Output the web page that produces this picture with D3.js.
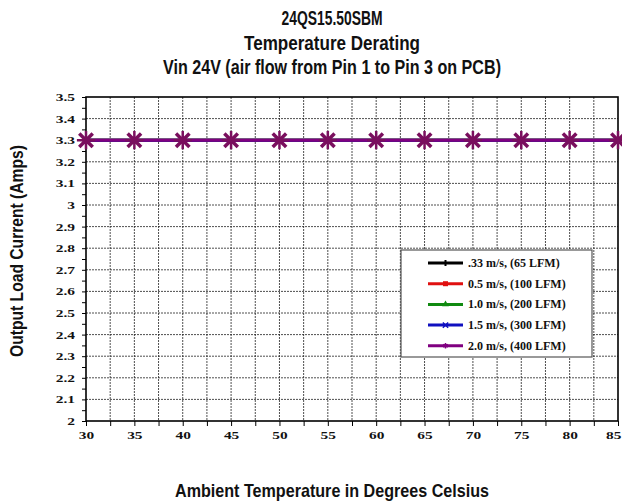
<!DOCTYPE html>
<html><head><meta charset="utf-8">
<script src="https://cdn.jsdelivr.net/npm/d3@7"></script>
<style>body{margin:0;background:#fff}svg{display:block}</style>
</head><body>
<script>
const temps = [30,35,40,45,50,55,60,65,70,75,80,85];
const s033 = [3.3,3.3,3.3,3.3,3.3,3.3,3.3,3.3,3.3,3.3,3.3,3.3];
const s05  = [3.3,3.3,3.3,3.3,3.3,3.3,3.3,3.3,3.3,3.3,3.3,3.3];
const s10  = [3.3,3.3,3.3,3.3,3.3,3.3,3.3,3.3,3.3,3.3,3.3,3.3];
const s15  = [3.3,3.3,3.3,3.3,3.3,3.3,3.3,3.3,3.3,3.3,3.3,3.3];
const s20  = [3.3,3.3,3.3,3.3,3.3,3.3,3.3,3.3,3.3,3.3,3.3,3.3];
const seriesNames = [".33 m/s, (65 LFM)","0.5 m/s, (100 LFM)","1.0 m/s, (200 LFM)","1.5 m/s, (300 LFM)","2.0 m/s, (400 LFM)"];
const xTicks = [30,35,40,45,50,55,60,65,70,75,80,85];
const yTicks = [2,2.1,2.2,2.3,2.4,2.5,2.6,2.7,2.8,2.9,3,3.1,3.2,3.3,3.4,3.5];
const titleLines = ["24QS15.50SBM","Temperature Derating","Vin 24V (air flow from Pin 1 to Pin 3 on PCB)"];

const W=622,H=503;
const L=86,R=618,T=97,B=421;
const svg=d3.select("body").append("svg").attr("width",W).attr("height",H);
const x=d3.scaleLinear().domain([30,85]).range([L,R]);
const y=d3.scaleLinear().domain([2,3.5]).range([B,T]);
const cond='"Liberation Sans",Arial,sans-serif';
const serif='"Liberation Serif","Times New Roman",serif';
const SX=1.4;

// grid
const vGrid=d3.range(32.5,85,2.5);
svg.append("g").selectAll("line").data(vGrid).join("line")
 .attr("x1",d=>x(d)).attr("x2",d=>x(d)).attr("y1",T).attr("y2",B)
 .attr("stroke","#222").attr("stroke-width",0.8).attr("stroke-dasharray","2,1");
svg.append("g").selectAll("line").data(yTicks.slice(1,-1)).join("line")
 .attr("x1",L).attr("x2",R).attr("y1",d=>y(d)).attr("y2",d=>y(d))
 .attr("stroke","#222").attr("stroke-width",0.8).attr("stroke-dasharray","2,1");

// axes
const xAxis=d3.axisBottom(x).tickValues(d3.range(30,85.1,2.5)).tickSize(5).tickFormat(d=>xTicks.includes(d)?d:"");
const gx=svg.append("g").attr("transform",`translate(0,${B})`).call(xAxis);
gx.select(".domain").remove();
gx.selectAll("line").attr("stroke","#000");
gx.selectAll("text").attr("font-family",serif).attr("font-weight","bold").attr("font-size",11).attr("fill","#111")
 .attr("y",18).attr("dy",0).attr("transform",`scale(${SX},1)`)
 .filter(d=>d===85).attr("text-anchor","end").attr("x",3/SX);
const yAxis=d3.axisLeft(y).tickValues(d3.range(2,3.501,0.05)).tickSize(4)
 .tickFormat(d=>{const r=Math.round(d*10)/10; return Math.abs(d-r)<1e-6?d3.format("")(+r.toFixed(1)):"";});
const gy=svg.append("g").attr("transform",`translate(${L},0)`).call(yAxis);
gy.select(".domain").remove();
gy.selectAll("line").attr("stroke","#000");
gy.selectAll("text").attr("font-family",serif).attr("font-weight","bold").attr("font-size",11).attr("fill","#111")
 .attr("x",-11/SX).attr("transform",`scale(${SX},1)`);
svg.append("rect").attr("x",L).attr("y",T).attr("width",R-L).attr("height",B-T)
 .attr("fill","none").attr("stroke","#000").attr("stroke-width",1.6);

// series
const colors=["#000000","#e01010","#108a10","#1010c0","#800080"];
const allS=[s033,s05,s10,s15,s20];
const markers=[d3.symbolCross,d3.symbolSquare,d3.symbolTriangle,d3.symbolTimes,d3.symbolAsterisk];
const line=d3.line().x((d,i)=>x(temps[i])).y(d=>y(d));
allS.forEach((s,k)=>{
  svg.append("path").datum(s).attr("d",line).attr("fill","none").attr("stroke",colors[k]).attr("stroke-width",3);
});
const mk=svg.append("g");
mk.selectAll("path.a").data(s20).join("path").attr("class","a")
 .attr("transform",(d,i)=>`translate(${x(temps[i])},${y(d)})`)
 .attr("d",d3.symbol().type(d3.symbolTimes).size(120)).attr("stroke","#7a0f5e").attr("stroke-width",3.5).attr("fill","none");
mk.selectAll("path.b").data(s20).join("path").attr("class","b")
 .attr("transform",(d,i)=>`translate(${x(temps[i])},${y(d)})`)
 .attr("d",d3.symbol().type(d3.symbolSquare).size(45)).attr("fill","#7a0f5e");
mk.selectAll("path.c").data(s20).join("path").attr("class","c")
 .attr("transform",(d,i)=>`translate(${x(temps[i])},${y(d)})`)
 .attr("d",d3.symbol().type(d3.symbolPlus).size(110)).attr("stroke","#7a0f5e").attr("stroke-width",2.5).attr("fill","none");

// legend
const lg=svg.append("g");
lg.append("rect").attr("x",401).attr("y",250).attr("width",191).attr("height",107)
 .attr("fill","#fff").attr("stroke","#555").attr("stroke-width",1.2);
seriesNames.forEach((n,k)=>{
  const yy=263+k*20.7;
  lg.append("line").attr("x1",428).attr("x2",463).attr("y1",yy).attr("y2",yy).attr("stroke",colors[k]).attr("stroke-width",3);
  lg.append("path").attr("transform",`translate(445.5,${yy})`).attr("d",d3.symbol().type(markers[k]).size(k==1?25:20))
   .attr("fill",colors[k]).attr("stroke",colors[k]).attr("stroke-width",k>=3?1.5:0);
  lg.append("text").attr("x",468).attr("y",yy+4).text(n)
   .attr("font-family",serif).attr("font-weight","bold").attr("font-size",12).attr("fill","#111");
});

// titles
const titleW=[101,176,338];
titleLines.forEach((t,i)=>{
  svg.append("text").attr("x",332).attr("y",25+i*24.5).attr("text-anchor","middle").text(t)
   .attr("textLength",titleW[i]).attr("lengthAdjust","spacingAndGlyphs")
   .attr("font-family",cond).attr("font-weight","bold").attr("font-size",19.5).attr("fill","#111");
});
svg.append("text").attr("x",332).attr("y",497).attr("text-anchor","middle").text("Ambient Temperature in Degrees Celsius")
 .attr("textLength",314).attr("lengthAdjust","spacingAndGlyphs")
 .attr("font-family",cond).attr("font-weight","bold").attr("font-size",18.5).attr("fill","#111");
svg.append("text").attr("transform","translate(23,251) rotate(-90)").attr("text-anchor","middle").text("Output Load Current (Amps)")
 .attr("textLength",212).attr("lengthAdjust","spacingAndGlyphs")
 .attr("font-family",cond).attr("font-weight","bold").attr("font-size",18.5).attr("fill","#111");
</script>
</body></html>
